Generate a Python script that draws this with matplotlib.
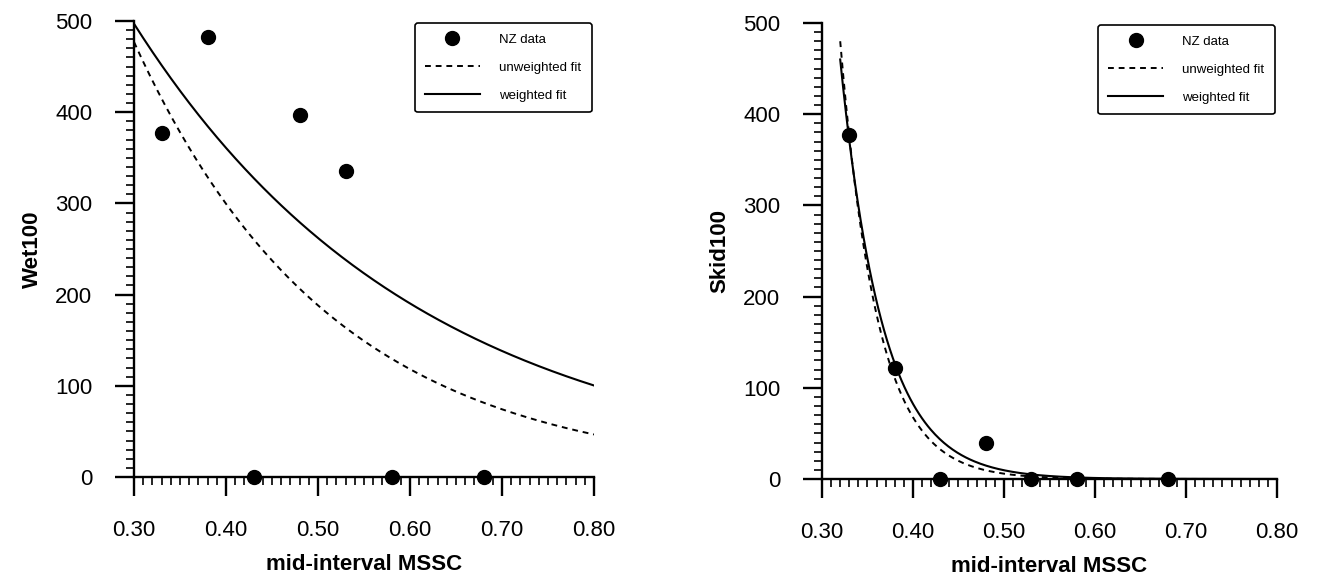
import numpy as np
import matplotlib.pyplot as plt
from matplotlib.ticker import MultipleLocator, FormatStrFormatter

plt.rcParams['font.family'] = ['Liberation Sans', 'DejaVu Sans']

# NZ data, mid-interval MSSC
mssc = [0.33, 0.38, 0.43, 0.48, 0.53, 0.58, 0.68]
wet100 = [377, 483, 0, 397, 336, 0, 0]
skid100 = [377, 122, 0, 39, 0, 0, 0]

# fitted curves, y = a * exp(-b * (x - x0)), parameters
wet_unweighted = (477, 4.65)
wet_weighted = (497, 3.2)
wet_x0 = 0.30
skid_unweighted = (480, 24.5)
skid_weighted = (460, 21.5)
skid_x0 = 0.32


def fit_curve(params, x0, x):
    a, b = params
    return a * np.exp(-b * (x - x0))


def style_axes(ax, ylabel):
    ax.set_xlim(0.30, 0.80)
    ax.set_ylim(0, 500)
    for s in ['top', 'right']:
        ax.spines[s].set_visible(False)
    for s in ['left', 'bottom']:
        ax.spines[s].set_linewidth(1.7)
    ax.xaxis.set_major_locator(MultipleLocator(0.1))
    ax.xaxis.set_minor_locator(MultipleLocator(0.01))
    ax.xaxis.set_major_formatter(FormatStrFormatter('%.2f'))
    ax.yaxis.set_major_locator(MultipleLocator(100))
    ax.yaxis.set_minor_locator(MultipleLocator(10))
    ax.tick_params(which='major', direction='out', length=14, width=1.7,
                   labelsize=16)
    ax.tick_params(which='minor', direction='out', length=6, width=1.2)
    ax.tick_params(axis='x', which='major', pad=17)
    ax.tick_params(axis='y', which='major', pad=16)
    ax.set_xlabel('mid-interval MSSC', fontsize=16, fontweight='bold',
                  labelpad=9)
    ax.set_ylabel(ylabel, fontsize=16, fontweight='bold', labelpad=9)


def draw_panel(ax, y, unweighted, weighted, x0, ylabel):
    x = np.linspace(x0, 0.80, 300)
    ax.plot(mssc, y, 'o', color='black', markersize=10, clip_on=False,
            zorder=5, label='NZ data')
    ax.plot(x, fit_curve(unweighted, x0, x), color='black', lw=1.4,
            linestyle=(0, (3, 2.5)), label='unweighted fit')
    ax.plot(x, fit_curve(weighted, x0, x), color='black', lw=1.5,
            label='weighted fit')
    style_axes(ax, ylabel)
    leg = ax.legend(loc='upper right', bbox_to_anchor=(1.0, 1.0),
                    fontsize=9.5, frameon=True, fancybox=True,
                    handlelength=4.1, handletextpad=1.5, borderpad=0.8,
                    labelspacing=1.2, borderaxespad=0.15)
    leg.get_frame().set_edgecolor('black')
    leg.get_frame().set_linewidth(1.2)
    leg.get_frame().set_alpha(1)


fig = plt.figure(figsize=(13.23, 5.8), dpi=100)
ax1 = fig.add_axes([134 / 1323, 103 / 580, 460 / 1323, 456 / 580])
ax2 = fig.add_axes([822 / 1323, 101 / 580, 455 / 1323, 456 / 580])

draw_panel(ax1, wet100, wet_unweighted, wet_weighted, wet_x0, 'Wet100')
draw_panel(ax2, skid100, skid_unweighted, skid_weighted, skid_x0, 'Skid100')

fig.savefig('out.png', dpi=100)
